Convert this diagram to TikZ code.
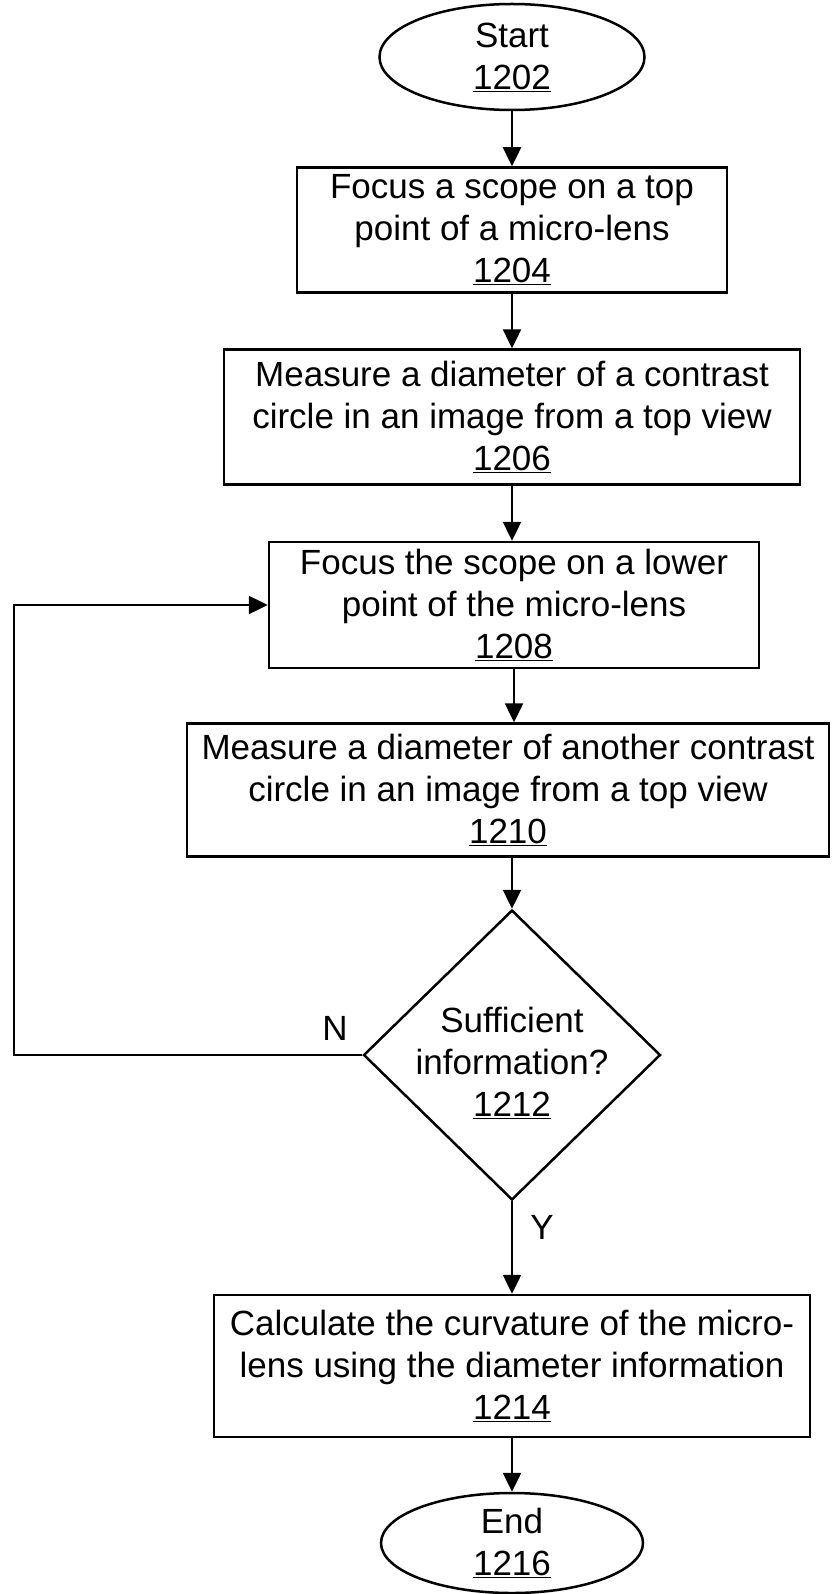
\documentclass[tikz,border=0pt]{standalone}
\usepackage{fontspec}
\setmainfont{Liberation Sans}
\usetikzlibrary{shapes.geometric,arrows.meta}

\tikzset{
  flowtext/.style={align=center, inner sep=0pt, font=\fontsize{35}{42}\selectfont},
  stepbox/.style={flowtext, draw, line width=2.5pt, rectangle},
  termnode/.style={draw, line width=2.5pt, ellipse, inner sep=0pt},
  decnode/.style={draw, line width=2.5pt, diamond, inner sep=0pt},
  flowarrow/.style={line width=2.5pt, -{Triangle[length=19pt,width=18pt]}}
}

\begin{document}
\begin{tikzpicture}[x=1pt, y=-1pt]
\useasboundingbox (0,0) rectangle (831,1594);

%% start and end
\node[termnode, minimum width=265pt, minimum height=106pt] (start) at (512,57) {};
\node[flowtext] (starttext) at (start) {Start\\\underline{1202}};

\node[termnode, minimum width=262pt, minimum height=100pt] (end) at (512,1543) {};
\node[flowtext] (endtext) at (end) {End\\\underline{1216}};

%% process boxes
\node[stepbox, minimum width=430pt, minimum height=125pt] (b1204) at (512,230)
  {Focus a scope on a top\\point of a micro-lens\\\underline{1204}};
\node[stepbox, minimum width=576pt, minimum height=135pt] (b1206) at (512,417)
  {Measure a diameter of a contrast\\circle in an image from a top view\\\underline{1206}};
\node[stepbox, minimum width=490pt, minimum height=126pt] (b1208) at (514,605)
  {Focus the scope on a lower\\point of the micro-lens\\\underline{1208}};
\node[stepbox, minimum width=642pt, minimum height=133pt] (b1210) at (508,790)
  {Measure a diameter of another contrast\\circle in an image from a top view\\\underline{1210}};
\node[stepbox, minimum width=596pt, minimum height=142pt] (b1214) at (512,1366)
  {Calculate the curvature of the micro-\\lens using the diameter information\\\underline{1214}};

%% decision
\node[decnode, minimum width=297pt, minimum height=290pt] (dec) at (512,1055) {};
\node[flowtext] (dectext) at (512,1063) {Sufficient\\information?\\\underline{1212}};
\node[flowtext] (nlab) at (335,1028) {N};
\node[flowtext] (ylab) at (542,1227) {Y};

%% arrows
\draw[flowarrow] (start) -- (b1204);
\draw[flowarrow] (b1204) -- (b1206);
\draw[flowarrow] (b1206.south) -- (b1206.south |- b1208.north);
\draw[flowarrow] (b1208.south) -- (b1208.south |- b1210.north);
\draw[flowarrow] (dec.north |- b1210.south) -- (dec.north);
\draw[flowarrow] (dec) -- (b1214);
\draw[flowarrow] (b1214) -- (end);

%% loop back on N
\coordinate (loopc) at (14,1055);
\draw[flowarrow] (dec.west) -- (loopc) |- (b1208.west);

\end{tikzpicture}
\end{document}
